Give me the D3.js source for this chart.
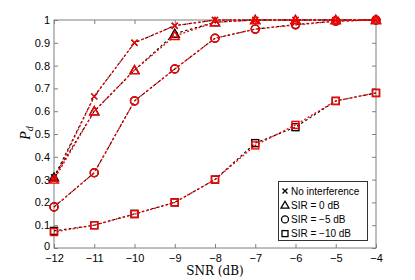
<!DOCTYPE html>
<html>
<head>
<meta charset="utf-8">
<script src="https://cdn.jsdelivr.net/npm/d3@7"></script>
<style>
body { margin: 0; background: #fff; }
svg { display: block; }
</style>
</head>
<body>
<svg width="415" height="280"></svg>
<script>
var snr = [-12, -11, -10, -9, -8, -7, -6, -5, -4];

// black = analysis, red = simulation
var noIntBlack = [0.31, 0.665, 0.90, 0.975, 1.0, 1.0, 1.0, 1.0, 1.0];
var noIntRed   = [0.30, 0.665, 0.90, 0.975, 1.0, 1.0, 1.0, 1.0, 1.0];
var sir0Black  = [0.31, 0.60, 0.78, 0.94, 0.99, 1.0, 1.0, 1.0, 1.0];
var sir0Red    = [0.30, 0.60, 0.78, 0.93, 0.99, 1.0, 1.0, 1.0, 1.0];
var sir5Black  = [0.18, 0.33, 0.645, 0.785, 0.92, 0.96, 0.98, 0.995, 1.0];
var sir5Red    = [0.18, 0.33, 0.645, 0.785, 0.92, 0.96, 0.978, 0.995, 1.0];
var sir10Black = [0.075, 0.10, 0.15, 0.20, 0.30, 0.46, 0.53, 0.645, 0.68];
var sir10Red   = [0.07, 0.10, 0.148, 0.20, 0.30, 0.45, 0.54, 0.645, 0.68];

var yTicks = [0, 0.1, 0.2, 0.3, 0.4, 0.5, 0.6, 0.7, 0.8, 0.9, 1];
var legendLabels = ["No interference", "SIR = 0 dB", "SIR = \u22125 dB", "SIR = \u221210 dB"];
var markers = ["x", "tri", "circ", "sq"];

var svg = d3.select("svg"),
    mL = 54, mR = 376, mT = 20, mB = 248;

var x = d3.scaleLinear().domain([-12, -4]).range([mL, mR]),
    y = d3.scaleLinear().domain([0, 1]).range([mB, mT]);

var axisColor = "#7f7f7f";
var fmt = d => d < 0 ? "\u2212" + Math.abs(d) : String(d);

// box
svg.append("rect")
    .attr("x", mL).attr("y", mT)
    .attr("width", mR - mL).attr("height", mB - mT)
    .attr("fill", "none").attr("stroke", axisColor).attr("stroke-width", 1);

var xa = svg.append("g").attr("transform", `translate(0,${mB})`)
    .call(d3.axisBottom(x).tickValues(snr).tickSize(-4).tickPadding(6).tickFormat(fmt));
var xt = svg.append("g").attr("transform", `translate(0,${mT})`)
    .call(d3.axisTop(x).tickValues(snr).tickSize(-4).tickFormat(""));
var ya = svg.append("g").attr("transform", `translate(${mL},0)`)
    .call(d3.axisLeft(y).tickValues(yTicks).tickSize(-4).tickPadding(4).tickFormat(d3.format("")));
var yr = svg.append("g").attr("transform", `translate(${mR},0)`)
    .call(d3.axisRight(y).tickValues(yTicks).tickSize(-4).tickFormat(""));

[xa, xt, ya, yr].forEach(function(g){
    g.select(".domain").remove();
    g.selectAll(".tick line").attr("stroke", axisColor);
    g.selectAll("text").attr("fill", "#000")
        .style("font-family", "Liberation Sans, Arial, sans-serif").style("font-size", "11px");
});
// lift the "0" label a little so it clears "-12"
ya.selectAll(".tick text").filter(d => d == 0).attr("dy", "0.1em");

var series = [
    {black: noIntBlack, red: noIntRed, m: "x"},
    {black: sir0Black, red: sir0Red, m: "tri"},
    {black: sir5Black, red: sir5Red, m: "circ"},
    {black: sir10Black, red: sir10Red, m: "sq"}
];

var line = d3.line().x((d, i) => x(snr[i])).y(d => y(d));

function marker(g, type, cx, cy, color) {
    if (type == "x") {
        g.append("path").attr("d", `M${cx-3},${cy-3}L${cx+3},${cy+3}M${cx-3},${cy+3}L${cx+3},${cy-3}`)
            .attr("stroke", color).attr("stroke-width", 1.3).attr("fill", "none");
    } else if (type == "tri") {
        g.append("path").attr("d", `M${cx},${cy-4.5}L${cx+4.5},${cy+3.5}L${cx-4.5},${cy+3.5}Z`)
            .attr("stroke", color).attr("stroke-width", 1.4).attr("fill", "none");
    } else if (type == "circ") {
        g.append("circle").attr("cx", cx).attr("cy", cy).attr("r", 4)
            .attr("stroke", color).attr("stroke-width", 1.4).attr("fill", "none");
    } else {
        g.append("rect").attr("x", cx - 3.5).attr("y", cy - 3.5).attr("width", 7).attr("height", 7)
            .attr("stroke", color).attr("stroke-width", 1.4).attr("fill", "none");
    }
}

var plot = svg.append("g");
series.forEach(function(s){
    plot.append("path").attr("d", line(s.black))
        .attr("fill", "none").attr("stroke", "#000").attr("stroke-width", 1.1)
        .attr("stroke-dasharray", "2.5,2.5");
    s.black.forEach((v, i) => marker(plot, s.m, x(snr[i]), y(v), "#000"));
});
series.forEach(function(s){
    plot.append("path").attr("d", line(s.red))
        .attr("fill", "none").attr("stroke", "#ff0000").attr("stroke-width", 1.3)
        .attr("stroke-dasharray", "2,2").attr("stroke-dashoffset", 1.2);
    s.red.forEach((v, i) => marker(plot, s.m, x(snr[i]), y(v), "#ff0000"));
});

// legend
var lg = svg.append("g");
lg.append("rect").attr("x", 278.5).attr("y", 181.5).attr("width", 89).attr("height", 59)
    .attr("fill", "#fff").attr("stroke", "#333").attr("stroke-width", 1);
legendLabels.forEach(function(t, i){
    var cy = 191 + i * 14.2;
    var mg = lg.append("g");
    if (markers[i] == "x") {
        mg.append("path").attr("d", `M282.5,${cy-2.5}L287.5,${cy+2.5}M282.5,${cy+2.5}L287.5,${cy-2.5}`)
            .attr("stroke", "#000").attr("stroke-width", 1.3);
    } else if (markers[i] == "tri") {
        mg.append("path").attr("d", `M285,${cy-4}L289,${cy+3}L281,${cy+3}Z`)
            .attr("stroke", "#000").attr("stroke-width", 1.3).attr("fill", "none");
    } else if (markers[i] == "circ") {
        mg.append("circle").attr("cx", 285).attr("cy", cy).attr("r", 3.5)
            .attr("stroke", "#000").attr("stroke-width", 1.3).attr("fill", "none");
    } else {
        mg.append("rect").attr("x", 282).attr("y", cy - 3).attr("width", 6).attr("height", 6)
            .attr("stroke", "#000").attr("stroke-width", 1.3).attr("fill", "none");
    }
    lg.append("text").attr("x", 291).attr("y", cy + 3.5).text(t)
        .style("font-family", "Liberation Sans, Arial, sans-serif").style("font-size", "10px");
});

// labels
svg.append("text").attr("x", 215).attr("y", 275).attr("text-anchor", "middle")
    .style("font-family", "DejaVu Serif, Liberation Serif, serif").style("font-size", "12px")
    .text("SNR (dB)");
var yl = svg.append("text").attr("transform", "translate(30,133) rotate(-90)")
    .attr("text-anchor", "middle")
    .style("font-family", "Liberation Serif, serif").style("font-size", "14px").style("font-style", "italic");
yl.append("tspan").text("P");
yl.append("tspan").attr("dy", 3).style("font-size", "10px").text("d");
</script>
</body>
</html>
